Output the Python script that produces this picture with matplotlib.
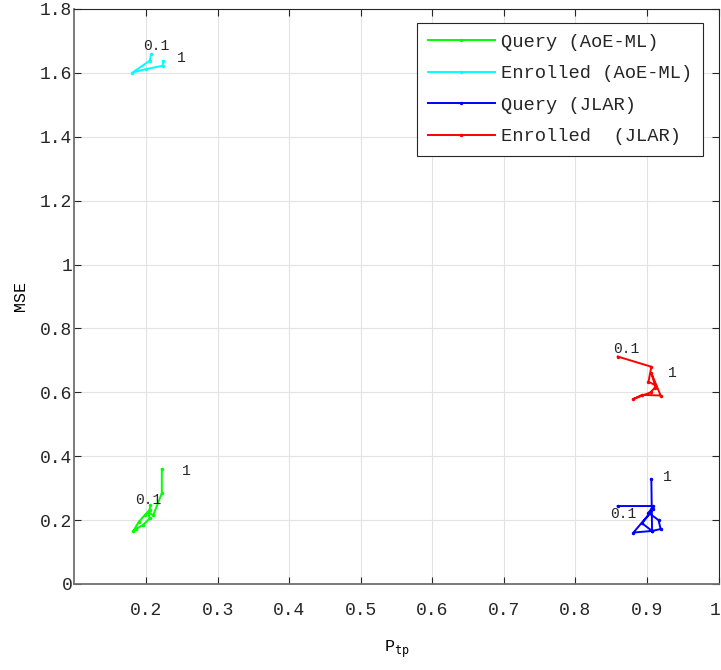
import numpy as np
from matplotlib import pyplot as plt
from matplotlib import transforms

plt.rcParams['font.family'] = ['Liberation Mono', 'DejaVu Sans Mono']
plt.rcParams['font.size'] = 13
plt.rcParams['text.color'] = '#262626'
plt.rcParams['xtick.labelcolor'] = '#262626'
plt.rcParams['ytick.labelcolor'] = '#262626'

# P_tp / MSE curves, threshold from 0.1 to 1
qAoeX = [0.206, 0.205, 0.198, 0.190, 0.182, 0.186, 0.196, 0.205, 0.203, 0.210, 0.222, 0.222]
qAoeY = [0.247, 0.232, 0.215, 0.195, 0.165, 0.172, 0.185, 0.205, 0.225, 0.215, 0.284, 0.360]

eAoeX = [0.207, 0.205, 0.181, 0.200, 0.223, 0.224]
eAoeY = [1.658, 1.638, 1.601, 1.612, 1.622, 1.637]

qJlarX = [0.859, 0.909, 0.902, 0.916, 0.919, 0.907, 0.893, 0.909, 0.881, 0.907, 0.906]
qJlarY = [0.244, 0.244, 0.223, 0.200, 0.172, 0.166, 0.190, 0.235, 0.161, 0.166, 0.328]

eJlarX = [0.859, 0.906, 0.902, 0.911, 0.906, 0.919, 0.893, 0.880, 0.905, 0.911]
eJlarY = [0.712, 0.680, 0.633, 0.623, 0.660, 0.590, 0.592, 0.578, 0.600, 0.615]

labels = ['Query (AoE-ML)', 'Enrolled (AoE-ML)', 'Query (JLAR)', 'Enrolled  (JLAR)']

fig = plt.figure(figsize=(7.21, 6.7), dpi=100)
ax = fig.add_axes([0.1033, 0.1284, 0.8934, 0.8582])

ax.plot(qAoeX, qAoeY, '.-', color='#00ff00', ms=3, lw=1.4, label=labels[0])
ax.plot(eAoeX, eAoeY, '.-', color='cyan', ms=3, lw=1.4, label=labels[1])
ax.plot(qJlarX, qJlarY, '.-', color='blue', ms=3, lw=1.4, label=labels[2])
ax.plot(eJlarX, eJlarY, '.-', color='red', ms=3, lw=1.4, label=labels[3])

# threshold annotations
fs = 10.5
ax.text(0.196, 1.684, '0.1', fontsize=fs, va='center')
ax.text(0.249, 1.647, '1', fontsize=fs, va='center', ha='center')
ax.text(0.185, 0.263, '0.1', fontsize=fs, va='center')
ax.text(0.256, 0.354, '1', fontsize=fs, va='center', ha='center')
ax.text(0.853, 0.736, '0.1', fontsize=fs, va='center')
ax.text(0.935, 0.661, '1', fontsize=fs, va='center', ha='center')
ax.text(0.849, 0.219, '0.1', fontsize=fs, va='center')
ax.text(0.928, 0.335, '1', fontsize=fs, va='center', ha='center')

ax.set_xlim(0.1, 1)
ax.set_ylim(0, 1.8)
ax.set_xticks(np.arange(0.2, 1.01, 0.1))
ax.set_xticklabels(['0.2', '0.3', '0.4', '0.5', '0.6', '0.7', '0.8', '0.9', '1'])
ax.set_yticks(np.arange(0, 1.81, 0.2))
ax.set_yticklabels(['0', '0.2', '0.4', '0.6', '0.8', '1', '1.2', '1.4', '1.6', '1.8'])
ax.grid(True, color='#e3e3e3', lw=0.8)
ax.set_axisbelow(True)
ax.tick_params(direction='in', length=5, top=True, right=True, labeltop=False, labelright=False,
               color='#262626')
ax.tick_params(axis='x', pad=13)
ax.tick_params(axis='y', pad=1.5)
# keep the last x label inside the figure
lastLbl = ax.get_xticklabels()[-1]
lastLbl.set_transform(lastLbl.get_transform() + transforms.ScaledTranslation(-4 / 100, 0, fig.dpi_scale_trans))
for side in ['top', 'right']:
    ax.spines[side].set_color('#262626')
    ax.spines[side].set_linewidth(0.8)
for side in ['left', 'bottom']:
    ax.spines[side].set_color('#707070')
    ax.spines[side].set_linewidth(1.3)

ax.set_xlabel('P$_{\\mathtt{tp}}$', fontsize=12, labelpad=14)
ax.set_ylabel('MSE', fontsize=12, labelpad=9)

leg = ax.legend(loc='upper right', bbox_to_anchor=(0.9757, 0.9757), borderaxespad=0,
                fancybox=False, framealpha=1, edgecolor='#262626', borderpad=0.58,
                labelspacing=0.76, handlelength=3.6, handletextpad=0.3, fontsize=13.5)
leg.get_frame().set_linewidth(0.8)

plt.savefig('out.png', dpi=100)
